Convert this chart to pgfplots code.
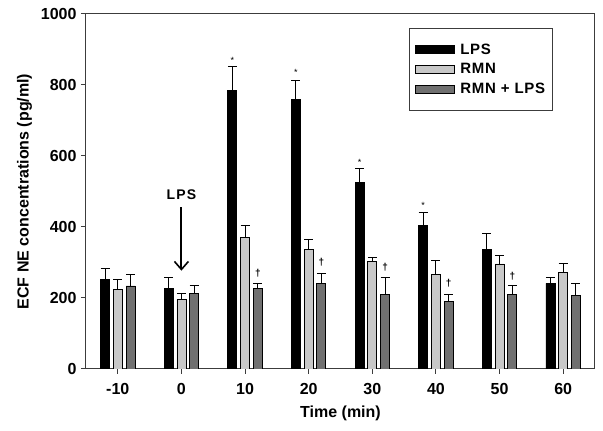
\documentclass[border=0pt]{standalone}
\usepackage{fontspec}
\setmainfont{Liberation Sans}
\usepackage{pgfplots}
\usepackage{pgfplotstable}
\pgfplotsset{compat=1.18}
\usetikzlibrary{arrows.meta}
\definecolor{lgray}{RGB}{200,200,200}
\definecolor{dgray}{RGB}{112,112,112}
\definecolor{frame}{RGB}{60,60,60}

\pgfplotstableread{
x y e
0 253 29
1 228 29
2 784 67
3 760 53
4 525 40
5 405 36
6 337 45
7 241 16
}\lps
\pgfplotstableread{
x y e
0 223 30
1 197 17
2 370 34
3 337 28
4 304 11
5 267 38
6 296 24
7 273 25
}\rmn
\pgfplotstableread{
x y e
0 234 31
1 212 22
2 228 13
3 241 29
4 211 46
5 190 21
6 210 24
7 206 34
}\rmnlps

\begin{document}
\begin{tikzpicture}
\path[use as bounding box] (-86pt,-62pt) rectangle (517pt,369pt);
\begin{axis}[
  at={(0,0)}, anchor=south west,
  scale only axis, width=509pt, height=355pt,
  xmin=-0.5, xmax=7.5, ymin=0, ymax=1000,
  ytick={0,200,...,1000},
  xtick={0,...,7},
  xticklabels={-10,0,10,20,30,40,50,60},
  tick align=outside, tick pos=left,
  major tick length=5pt,
  axis line style={frame, line width=1pt},
  tick style={frame, line width=1pt},
  /pgf/number format/assume math mode=true,
  /pgf/number format/set thousands separator={},
  tick label style={font=\fontsize{16}{18}\selectfont\bfseries},
  yticklabel style={xshift=-1pt},
  xticklabel style={yshift=-6pt},
  xlabel={Time (min)},
  ylabel={ECF NE concentrations (pg/ml)},
  label style={font=\fontsize{16}{18}\selectfont\bfseries},
  xlabel style={at={(axis description cs:0.5,0)}, anchor=center, yshift=-44pt},
  ylabel style={yshift=2pt},
  ybar, bar width=9pt,
  error bars/y dir=plus,
  error bars/y explicit,
  error bars/error bar style={black, line width=1pt},
  error bars/error mark options={black, line width=1pt, mark size=4.5pt, rotate=90},
  legend image code/.code={\draw[#1, draw=black, line width=0.8pt] (0pt,-4pt) rectangle (39pt,4pt);},
  legend style={at={(0.917,0.96)}, anchor=north east, draw=frame, line width=1pt,
    font=\fontsize{15}{17}\selectfont\bfseries\addfontfeatures{LetterSpace=5}, row sep=4pt,
    inner xsep=5pt, inner ysep=13pt, cells={anchor=west},
    /tikz/every odd column/.append style={column sep=4pt}},
]
\addplot[fill=black, draw=black, line width=0.8pt, bar shift=-12.7pt] table[x=x, y=y, y error=e] {\lps};
\addplot[fill=lgray, draw=black, line width=0.8pt, bar shift=0pt] table[x=x, y=y, y error=e] {\rmn};
\addplot[fill=dgray, draw=black, line width=0.8pt, bar shift=12.7pt] table[x=x, y=y, y error=e] {\rmnlps};
\legend{LPS, RMN, RMN + LPS}

\node[font=\fontsize{9}{9}\selectfont] at (axis cs:1.8,870) {*};
\node[font=\fontsize{9}{9}\selectfont] at (axis cs:2.8,836) {*};
\node[font=\fontsize{9}{9}\selectfont] at (axis cs:3.8,582) {*};
\node[font=\fontsize{9}{9}\selectfont] at (axis cs:4.8,461) {*};
\node[font=\fontsize{10}{10}\selectfont\bfseries] at (axis cs:2.2,270) {†};
\node[font=\fontsize{10}{10}\selectfont\bfseries] at (axis cs:3.2,301) {†};
\node[font=\fontsize{10}{10}\selectfont\bfseries] at (axis cs:4.2,287) {†};
\node[font=\fontsize{10}{10}\selectfont\bfseries] at (axis cs:5.2,242) {†};
\node[font=\fontsize{10}{10}\selectfont\bfseries] at (axis cs:6.2,262) {†};

\node[font=\fontsize{14}{16}\selectfont\bfseries\addfontfeatures{LetterSpace=8}] at (axis cs:1,490) {LPS};
\draw[line width=2pt, -{Straight Barb[length=8pt,width=14pt,line width=1.6pt]}] (axis cs:1,456) -- (axis cs:1,277);
\end{axis}
\end{tikzpicture}
\end{document}
